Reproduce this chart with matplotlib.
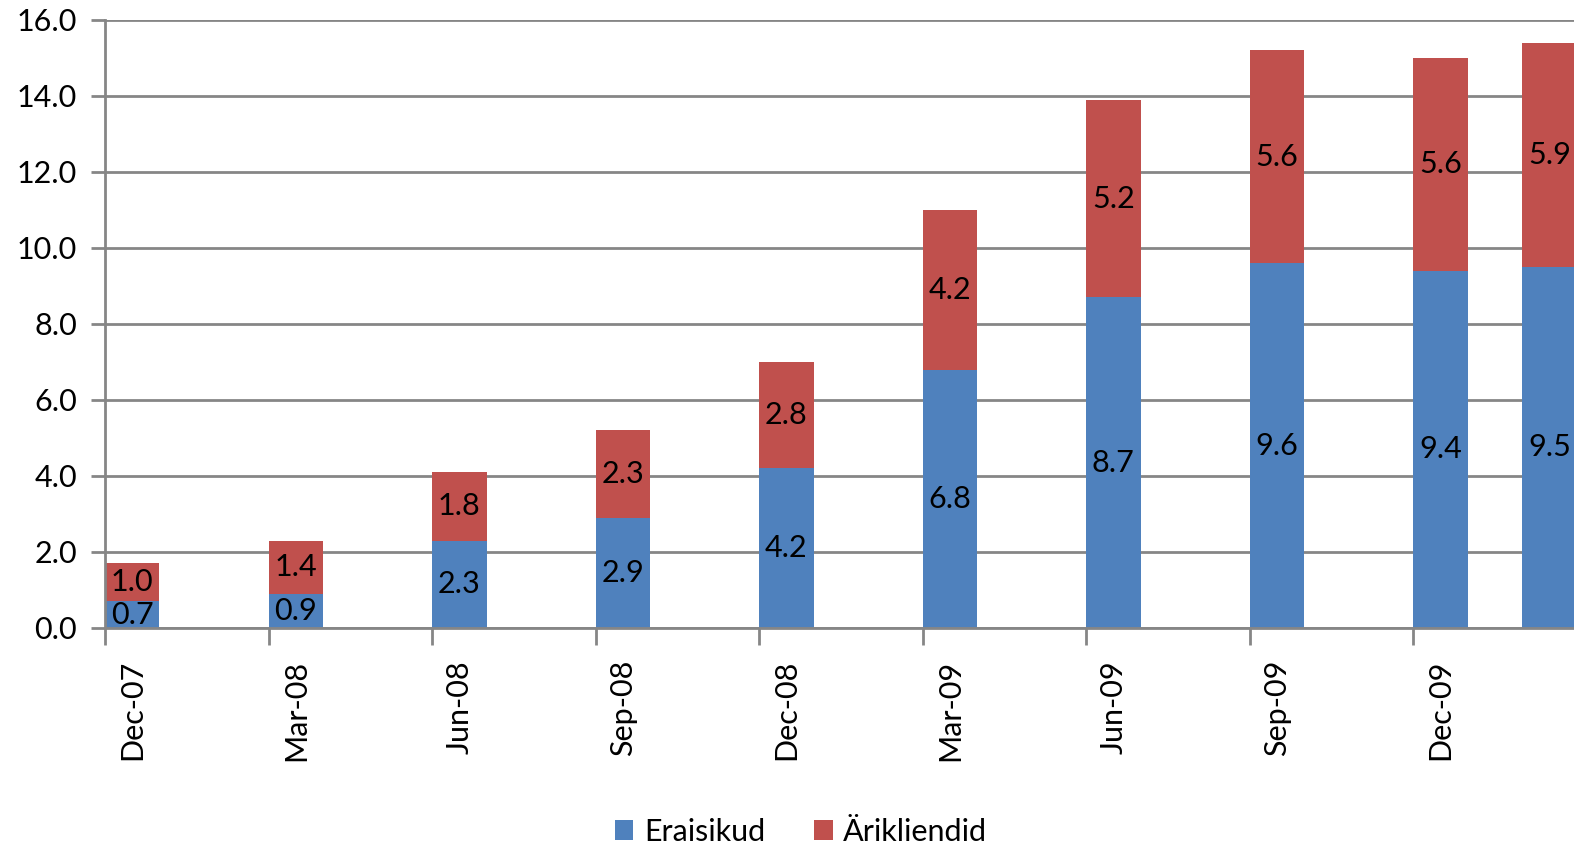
import matplotlib.pyplot as plt
import numpy as np

plt.rcParams['font.family'] = ['Lato', 'DejaVu Sans']

# months since Dec-07 for each observation
months = [0, 3, 6, 9, 12, 15, 18, 21, 24, 26]
eraisikud = [0.7, 0.9, 2.3, 2.9, 4.2, 6.8, 8.7, 9.6, 9.4, 9.5]
arikliendid = [1.0, 1.4, 1.8, 2.3, 2.8, 4.2, 5.2, 5.6, 5.6, 5.9]
tick_months = [0, 3, 6, 9, 12, 15, 18, 21, 24]
tick_labels = ['Dec-07', 'Mar-08', 'Jun-08', 'Sep-08', 'Dec-08',
               'Mar-09', 'Jun-09', 'Sep-09', 'Dec-09']

blue = '#4F81BD'
red = '#C0504D'
grey = '#868686'
fs = 22

fig = plt.figure(figsize=(15.74, 8.47), dpi=100)
ax = fig.add_axes([0.0667, 0.2586, 0.9333, 0.7178])

x = np.array(months)
b1 = ax.bar(x, eraisikud, width=1.0, align='edge', color=blue, label='Eraisikud', zorder=3)
b2 = ax.bar(x, arikliendid, width=1.0, align='edge', bottom=eraisikud, color=red,
            label='Ärikliendid', zorder=3)

for xi, e, a in zip(x, eraisikud, arikliendid):
    ax.text(xi + 0.5, e / 2, f'{e:.1f}', ha='center', va='center', fontsize=fs, zorder=4)
    ax.text(xi + 0.5, e + a / 2, f'{a:.1f}', ha='center', va='center', fontsize=fs, zorder=4)

ax.set_xlim(0, 26.95)
ax.set_ylim(0, 16)
ax.set_yticks(np.arange(0, 16.1, 2))
ax.set_yticklabels([f'{v:.1f}' for v in np.arange(0, 16.1, 2)], fontsize=fs)
ax.yaxis.grid(True, color=grey, linewidth=2, zorder=0)
ax.tick_params(axis='y', length=10, width=2, color=grey, pad=10)

ax.set_xticks(tick_months)
ax.set_xticklabels([])
ax.set_xticks([m + 0.5 for m in tick_months], minor=True)
ax.set_xticklabels(tick_labels, minor=True, rotation=90, fontsize=fs)
ax.tick_params(axis='x', which='major', length=12, width=2, color=grey)
ax.tick_params(axis='x', which='minor', length=0, pad=23)

for s in ['top', 'right']:
    ax.spines[s].set_visible(False)
for s in ['left', 'bottom']:
    ax.spines[s].set_color(grey)
    ax.spines[s].set_linewidth(2)
    ax.spines[s].set_zorder(5)

fig.legend(handles=[b1, b2], loc='center', bbox_to_anchor=(0.509, 0.018),
           ncol=2, frameon=False, fontsize=fs, handlelength=0.6, handleheight=0.6,
           handletextpad=0.35, columnspacing=1.6)

fig.savefig('out.png', dpi=100)
